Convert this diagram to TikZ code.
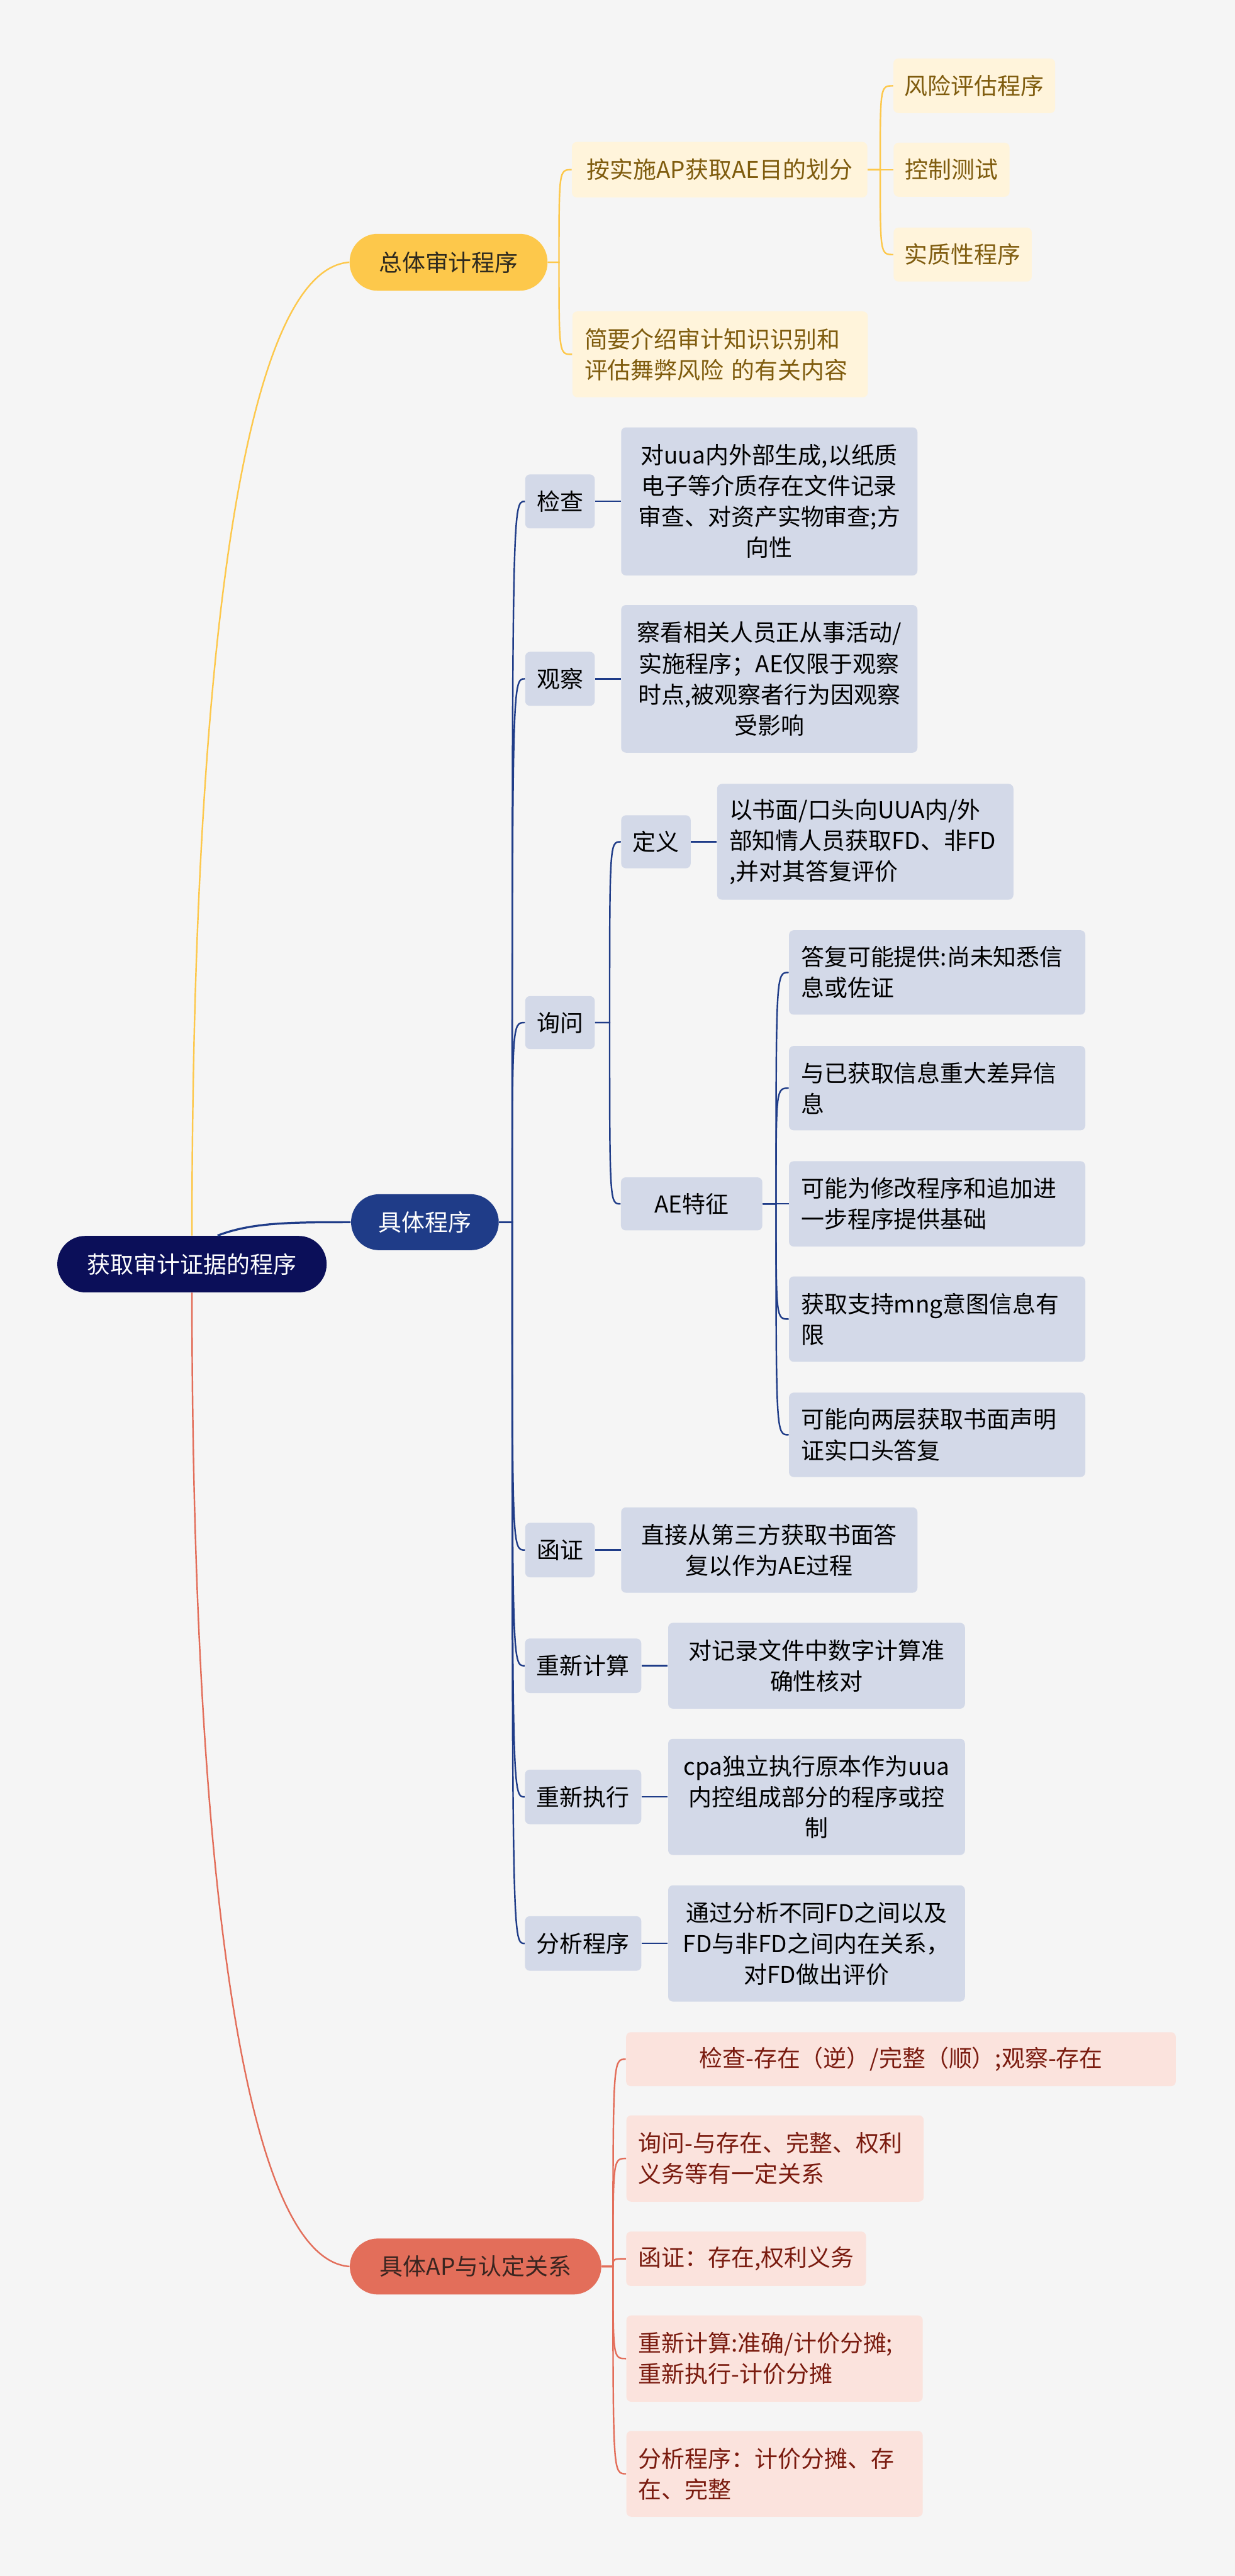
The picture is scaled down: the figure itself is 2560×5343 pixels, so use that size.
\documentclass[tikz,border=0pt]{standalone}
\usepackage{fontspec}
\setmainfont{Noto Sans CJK SC}
\usepackage{tikz}
\usetikzlibrary{positioning}

\definecolor{bgGray}{HTML}{F5F5F5}
\definecolor{rootNavy}{HTML}{0B0F59}
\definecolor{genYellow}{HTML}{FDC84B}
\definecolor{genLight}{HTML}{FFF4DB}
\definecolor{genText}{HTML}{7F5C0E}
\definecolor{genDark}{HTML}{2E2A1F}
\definecolor{specBlue}{HTML}{1F3C88}
\definecolor{specLight}{HTML}{D3D9E8}
\definecolor{aprRed}{HTML}{E36E5A}
\definecolor{aprLight}{HTML}{FBE3DD}
\definecolor{aprText}{HTML}{7A1B0F}
\definecolor{aprDark}{HTML}{3A2520}

\begin{document}
\begin{tikzpicture}[
  x=0.01cm, y=-0.01cm,
  every node/.style = {font=\fontsize{13.7pt}{18.2pt}\selectfont, inner sep=0pt},
  pill/.style = {rectangle, rounded corners=0.58cm, minimum height=1.16cm},
  leaf/.style = {rectangle, rounded corners=0.1cm, minimum height=1.12cm},
  yleaf/.style = {leaf, fill=genLight, text=genText},
  bleaf/.style = {leaf, fill=specLight, text=black},
  rleaf/.style = {leaf, fill=aprLight, text=aprText},
  yline/.style = {draw=genYellow, line width=0.9pt},
  bline/.style = {draw=specBlue, line width=0.9pt},
  rline/.style = {draw=aprRed, line width=0.9pt}
]

\fill[bgGray] (0, 0) rectangle (2560, 5343);
\useasboundingbox (0, 0) rectangle (2560, 5343);

\node[pill, fill=rootNavy, text=white, minimum width=5.58cm, minimum height=1.17cm] (root) at (398, 2622) {获取审计证据的程序};

% 总体审计程序
\node[pill, fill=genYellow, text=genDark, minimum width=4.10cm, minimum height=1.18cm] (gen) at (930, 544) {总体审计程序};
\node[yleaf, minimum width=6.12cm, minimum height=1.15cm] (div) at (1492, 352) {按实施AP获取AE目的划分};
\node[yleaf, minimum width=3.35cm, minimum height=1.13cm] (risk) at (2020, 178) {风险评估程序};
\node[yleaf, minimum width=2.40cm] (ctrl) at (1973, 352) {控制测试};
\node[yleaf, minimum width=2.86cm] (subst) at (1996, 528) {实质性程序};
\node[yleaf, minimum width=6.12cm, minimum height=1.78cm, text width=5.62cm, align=left] (intro) at (1493, 735) {简要介绍审计知识识别和\\评估舞弊风险 的有关内容};

% 具体程序
\node[pill, fill=specBlue, text=white, minimum width=3.06cm] (spec) at (881, 2535) {具体程序};

\node[bleaf, minimum width=1.44cm] (insp) at (1161, 1040) {检查};
\node[bleaf, minimum width=6.14cm, minimum height=3.07cm, text width=5.64cm, align=center] (inspD) at (1595, 1040) {对uua内外部生成,以纸质\\电子等介质存在文件记录\\审查、对资产实物审查;方\\向性};

\node[bleaf, minimum width=1.44cm] (obs) at (1161, 1408) {观察};
\node[bleaf, minimum width=6.14cm, minimum height=3.06cm, text width=5.64cm, align=center] (obsD) at (1595, 1408) {察看相关人员正从事活动/\\实施程序；AE仅限于观察\\时点,被观察者行为因观察\\受影响};

\node[bleaf, minimum width=1.44cm, minimum height=1.10cm] (inq) at (1161, 2121) {询问};
\node[bleaf, minimum width=1.44cm, minimum height=1.10cm] (defn) at (1360, 1746) {定义};
\node[bleaf, minimum width=6.14cm, minimum height=2.40cm, text width=5.64cm, align=left] (defnD) at (1794, 1746) {以书面/口头向UUA内/外\\部知情人员获取FD、非FD\\,并对其答复评价};
\node[bleaf, minimum width=2.93cm, minimum height=1.10cm] (aeFeat) at (1434, 2497) {AE特征};

\node[bleaf, minimum width=6.14cm, minimum height=1.75cm, text width=5.64cm, align=left] (aeA) at (1943, 2017) {答复可能提供:尚未知悉信\\息或佐证};
\node[bleaf, minimum width=6.14cm, minimum height=1.75cm, text width=5.64cm, align=left] (aeB) at (1943, 2257) {与已获取信息重大差异信\\息};
\node[bleaf, minimum width=6.14cm, minimum height=1.77cm, text width=5.64cm, align=left] (aeC) at (1943, 2497) {可能为修改程序和追加进\\一步程序提供基础};
\node[bleaf, minimum width=6.14cm, minimum height=1.77cm, text width=5.64cm, align=left] (aeD) at (1943, 2736) {获取支持mng意图信息有\\限};
\node[bleaf, minimum width=6.14cm, minimum height=1.75cm, text width=5.64cm, align=left] (aeE) at (1943, 2976) {可能向两层获取书面声明\\证实口头答复};

\node[bleaf, minimum width=1.44cm, minimum height=1.13cm] (conf) at (1161, 3215) {函证};
\node[bleaf, minimum width=6.14cm, minimum height=1.77cm, text width=5.64cm, align=center] (confD) at (1595, 3215) {直接从第三方获取书面答\\复以作为AE过程};

\node[bleaf, minimum width=2.41cm, minimum height=1.13cm] (recalc) at (1209, 3455) {重新计算};
\node[bleaf, minimum width=6.15cm, minimum height=1.78cm, text width=5.65cm, align=center] (recalcD) at (1693, 3455) {对记录文件中数字计算准\\确性核对};

\node[bleaf, minimum width=2.41cm, minimum height=1.13cm] (reperf) at (1209, 3727) {重新执行};
\node[bleaf, minimum width=6.15cm, minimum height=2.41cm, text width=5.65cm, align=center] (reperfD) at (1693, 3727) {cpa独立执行原本作为uua\\内控组成部分的程序或控\\制};

\node[bleaf, minimum width=2.41cm, minimum height=1.13cm] (anal) at (1209, 4031) {分析程序};
\node[bleaf, minimum width=6.15cm, minimum height=2.41cm, text width=5.65cm, align=center] (analD) at (1693, 4031) {通过分析不同FD之间以及\\FD与非FD之间内在关系，\\对FD做出评价};

% 具体AP与认定关系
\node[pill, fill=aprRed, text=aprDark, minimum width=5.21cm] (apr) at (986, 4701) {具体AP与认定关系};
\node[rleaf, minimum width=11.39cm] (relA) at (1868, 4271) {检查-存在（逆）/完整（顺）;观察-存在};
\node[rleaf, minimum width=6.16cm, minimum height=1.79cm, text width=5.66cm, align=left] (relB) at (1607, 4477) {询问-与存在、完整、权利\\义务等有一定关系};
\node[rleaf, minimum width=4.97cm, minimum height=1.13cm] (relC) at (1547, 4685) {函证：存在,权利义务};
\node[rleaf, minimum width=6.14cm, minimum height=1.79cm, text width=5.64cm, align=left] (relD) at (1606, 4892) {重新计算:准确/计价分摊;\\重新执行-计价分摊};
\node[rleaf, minimum width=6.14cm, minimum height=1.78cm, text width=5.64cm, align=left] (relE) at (1606, 5131) {分析程序：计价分摊、存\\在、完整};

% bracket points
\coordinate (genB) at (1159, 544);
\coordinate (divB) at (1825, 352);
\coordinate (specB) at (1062, 2535);
\coordinate (inqB) at (1264, 2121);
\coordinate (aeFeatB) at (1609, 2497);
\coordinate (aprB) at (1271, 4701);

% root to main branches
\draw[yline] (root.north) .. controls +(0, -1164) and +(-225, 16) .. (gen.west);
\draw[bline, line width=1.2pt] ([xshift=0.53cm]root.north) .. controls +(70, -27) and +(-128, 0) .. (spec.west);
\draw[rline] (root.south) .. controls +(0, 1153) and +(-226, -16) .. (apr.west);

% 总体审计程序 branch
\draw[yline] (gen.east) -- (genB) .. controls (genB |- div.west) .. (div.west);
\draw[yline] (gen.east) -- (genB) .. controls (genB |- intro.west) .. (intro.west);
\draw[yline] (div.east) -- (divB) .. controls (divB |- risk.west) .. (risk.west);
\draw[yline] (div.east) -- (ctrl.west);
\draw[yline] (div.east) -- (divB) .. controls (divB |- subst.west) .. (subst.west);

% 具体程序 branch
\draw[bline] (spec.east) -- (specB) .. controls (specB |- insp.west) .. (insp.west);
\draw[bline] (spec.east) -- (specB) .. controls (specB |- obs.west) .. (obs.west);
\draw[bline] (spec.east) -- (specB) .. controls (specB |- inq.west) .. (inq.west);
\draw[bline] (spec.east) -- (specB) .. controls (specB |- conf.west) .. (conf.west);
\draw[bline] (spec.east) -- (specB) .. controls (specB |- recalc.west) .. (recalc.west);
\draw[bline] (spec.east) -- (specB) .. controls (specB |- reperf.west) .. (reperf.west);
\draw[bline] (spec.east) -- (specB) .. controls (specB |- anal.west) .. (anal.west);

\draw[bline] (insp.east) -- (inspD.west);
\draw[bline] (obs.east) -- (obsD.west);
\draw[bline] (conf.east) -- (confD.west);
\draw[bline] (recalc.east) -- (recalcD.west);
\draw[bline] (reperf.east) -- (reperfD.west);
\draw[bline] (anal.east) -- (analD.west);

\draw[bline] (inq.east) -- (inqB) .. controls (inqB |- defn.west) .. (defn.west);
\draw[bline] (inq.east) -- (inqB) .. controls (inqB |- aeFeat.west) .. (aeFeat.west);
\draw[bline] (defn.east) -- (defnD.west);

\draw[bline] (aeFeat.east) -- (aeFeatB) .. controls (aeFeatB |- aeA.west) .. (aeA.west);
\draw[bline] (aeFeat.east) -- (aeFeatB) .. controls (aeFeatB |- aeB.west) .. (aeB.west);
\draw[bline] (aeFeat.east) -- (aeC.west);
\draw[bline] (aeFeat.east) -- (aeFeatB) .. controls (aeFeatB |- aeD.west) .. (aeD.west);
\draw[bline] (aeFeat.east) -- (aeFeatB) .. controls (aeFeatB |- aeE.west) .. (aeE.west);

% 具体AP与认定关系 branch
\draw[rline] (apr.east) -- (aprB) .. controls (aprB |- relA.west) .. (relA.west);
\draw[rline] (apr.east) -- (aprB) .. controls (aprB |- relB.west) .. (relB.west);
\draw[rline] (apr.east) -- (aprB) .. controls (aprB |- relC.west) .. (relC.west);
\draw[rline] (apr.east) -- (aprB) .. controls (aprB |- relD.west) .. (relD.west);
\draw[rline] (apr.east) -- (aprB) .. controls (aprB |- relE.west) .. (relE.west);
\end{tikzpicture}
\end{document}
